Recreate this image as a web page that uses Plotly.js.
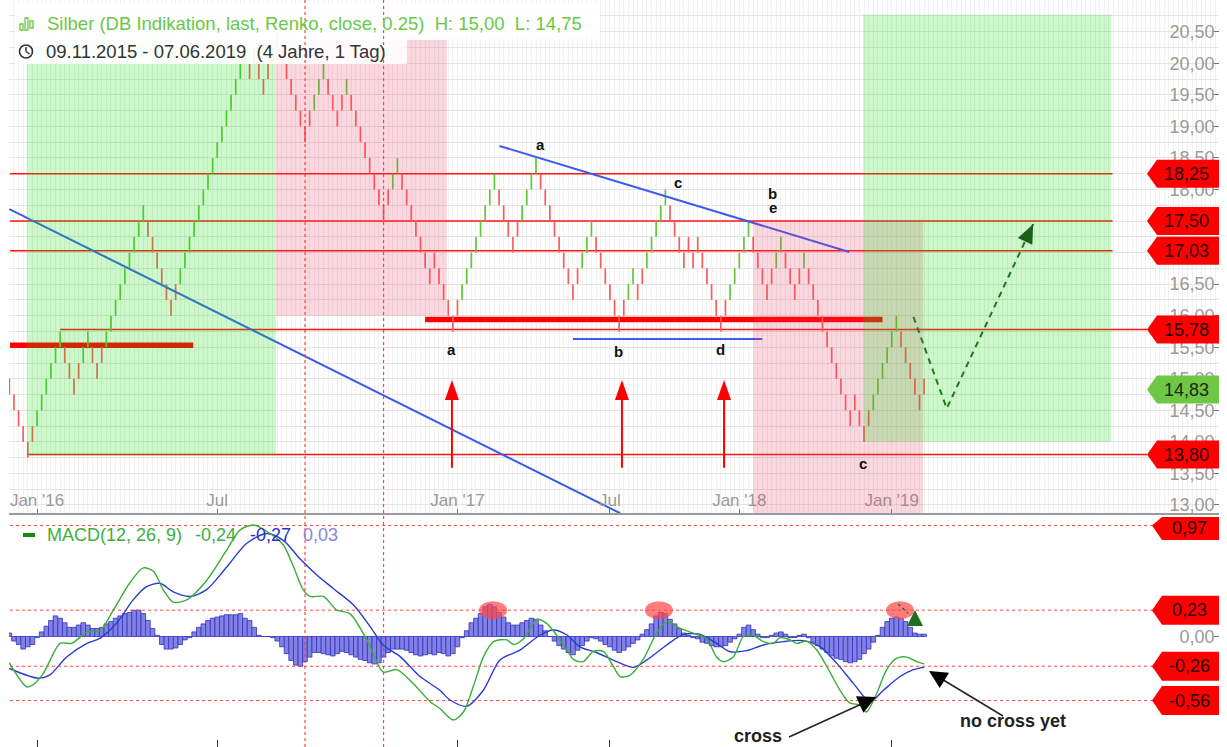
<!DOCTYPE html>
<html><head><meta charset="utf-8">
<script src="https://cdn.plot.ly/plotly-3.0.1.min.js"></script>
<style>html,body{margin:0;padding:0;background:#fff}#chart{width:1227px;height:747px}</style>
</head><body><div id="chart"></div>
<script>
// ---------------- DATA ----------------
const BRICK = 0.25;
// Renko brick closes (brick index = x) and direction (+1 up, -1 down)
const brickClose = [
14.75,14.50,14.25,14.00,13.75,14.25,14.50,14.75,15.00,15.25,
15.50,15.75,15.25,15.00,14.75,15.25,15.50,15.75,15.25,15.00,
15.50,15.75,16.00,16.25,16.50,16.75,17.00,17.25,17.50,17.75,
17.25,17.00,16.75,16.50,16.25,16.00,16.50,16.75,17.00,17.25,
17.50,17.75,18.00,18.25,18.50,18.75,19.00,19.25,19.50,19.75,
20.00,20.25,19.75,20.25,19.75,19.50,20.00,20.25,20.50,20.00,
19.75,19.50,19.25,19.00,18.75,19.25,19.50,19.75,20.00,19.50,
19.25,19.00,19.50,19.75,19.25,19.00,18.75,18.50,18.25,18.00,
17.75,17.50,18.00,18.25,18.50,18.00,17.75,17.50,17.25,17.00,
16.75,16.50,17.00,16.50,16.25,16.00,15.75,16.25,16.50,16.75,
17.00,17.25,17.50,17.75,18.00,18.25,17.75,17.50,17.25,17.00,
17.50,17.75,18.00,18.25,18.50,18.00,17.75,17.50,17.25,17.00,
16.75,16.50,16.25,16.75,17.00,17.25,17.50,17.00,16.75,16.50,
16.25,16.00,15.75,16.25,16.50,16.75,16.25,16.75,17.00,17.25,
17.50,17.75,18.00,17.50,17.25,17.00,16.75,17.25,16.75,17.25,
16.75,16.50,16.25,16.00,15.75,16.25,16.50,16.75,17.00,17.25,
17.50,17.00,16.75,16.50,16.25,16.75,17.00,17.25,16.75,16.50,
16.25,16.75,17.00,16.50,16.25,16.00,15.75,15.50,15.25,15.00,
14.75,14.50,14.25,14.75,14.25,14.00,14.50,14.75,15.00,15.25,
15.50,15.75,16.00,15.50,15.25,15.00,14.75,14.50,15.00];
const brickDir = [
-1,-1,-1,-1,-1,1,1,1,1,1,
1,1,-1,-1,-1,1,1,1,-1,-1,
1,1,1,1,1,1,1,1,1,1,
-1,-1,-1,-1,-1,-1,1,1,1,1,
1,1,1,1,1,1,1,1,1,1,
1,1,-1,1,-1,-1,1,1,1,-1,
-1,-1,-1,-1,-1,1,1,1,1,-1,
-1,-1,1,1,-1,-1,-1,-1,-1,-1,
-1,-1,1,1,1,-1,-1,-1,-1,-1,
-1,-1,1,-1,-1,-1,-1,1,1,1,
1,1,1,1,1,1,-1,-1,-1,-1,
1,1,1,1,1,-1,-1,-1,-1,-1,
-1,-1,-1,1,1,1,1,-1,-1,-1,
-1,-1,-1,1,1,1,-1,1,1,1,
1,1,1,-1,-1,-1,-1,1,-1,1,
-1,-1,-1,-1,-1,1,1,1,1,1,
1,-1,-1,-1,-1,1,1,1,-1,-1,
-1,1,1,-1,-1,-1,-1,-1,-1,-1,
-1,-1,-1,1,-1,-1,1,1,1,1,
1,1,1,-1,-1,-1,-1,-1,1];
// MACD histogram per brick
const histVal = [
0.03,-0.04,-0.07,-0.11,-0.09,-0.07,-0.01,0.04,0.09,0.14,
0.18,0.16,0.12,0.08,0.08,0.10,0.12,0.10,0.07,0.07,
0.08,0.11,0.13,0.16,0.18,0.20,0.21,0.23,0.23,0.20,
0.14,0.07,0.01,-0.07,-0.11,-0.11,-0.10,-0.07,-0.03,-0.01,
0.04,0.08,0.11,0.14,0.16,0.17,0.18,0.19,0.19,0.19,
0.20,0.16,0.14,0.08,0.01,0.00,0.00,-0.01,-0.04,-0.09,
-0.15,-0.21,-0.25,-0.26,-0.22,-0.18,-0.14,-0.14,-0.15,-0.16,
-0.17,-0.15,-0.13,-0.14,-0.16,-0.18,-0.20,-0.21,-0.23,-0.24,
-0.23,-0.18,-0.14,-0.11,-0.11,-0.11,-0.12,-0.14,-0.16,-0.17,
-0.16,-0.15,-0.16,-0.14,-0.15,-0.17,-0.15,-0.09,-0.01,0.05,
0.12,0.16,0.20,0.26,0.28,0.26,0.21,0.17,0.12,0.10,
0.10,0.12,0.14,0.16,0.15,0.10,0.05,0.00,-0.04,-0.08,
-0.11,-0.14,-0.16,-0.12,-0.08,-0.04,-0.01,-0.02,-0.04,-0.07,
-0.09,-0.12,-0.14,-0.12,-0.09,-0.06,-0.03,0.02,0.06,0.11,
0.18,0.21,0.20,0.15,0.11,0.07,0.03,0.01,-0.01,-0.02,
-0.05,-0.06,-0.08,-0.09,-0.09,-0.08,-0.05,-0.02,0.02,0.08,
0.10,0.06,0.02,-0.01,-0.01,0.01,0.03,0.04,0.02,-0.01,
-0.01,0.01,0.02,-0.01,-0.05,-0.08,-0.11,-0.14,-0.17,-0.19,
-0.20,-0.22,-0.23,-0.22,-0.20,-0.15,-0.11,-0.05,0.01,0.08,
0.13,0.16,0.17,0.16,0.13,0.08,0.03,0.02,0.02];
// MACD line (read at brick positions)
const macdIdx = [0,3.8,5.2,7.4,11,13.5,16.8,19.6,22.5,26.1,29,31.2,33.3,35.5,38.4,42.7,47.1,49.9,52.8,55.7,
59.3,61.5,63.6,65.1,68,70.9,73.7,77.4,80.9,83.9,87.4,91.1,93.2,96.1,98.3,100.4,102.6,104.8,107.7,109.1,
111.3,114.2,116.3,118.5,120.7,122.1,124.2,126.4,128.6,130.7,132.2,134.3,137.2,140.1,142.3,145.2,148,150.9,153.1,154.5,
156.7,158.9,161,163.2,165.4,166.8,169,170.4,172.6,174.8,177.6,179.8,181.9,184.1,185.5,187.7,189.9,192.1,194.2,196.4,198];
const macdVal = [-0.23,-0.44,-0.42,-0.32,-0.06,-0.06,0.04,0.05,0.23,0.47,0.60,0.57,0.41,0.30,0.32,0.49,0.76,0.93,0.975,0.92,
0.80,0.61,0.41,0.35,0.35,0.23,0.20,-0.03,-0.31,-0.29,-0.41,-0.57,-0.63,-0.73,-0.66,-0.44,-0.18,-0.045,-0.03,-0.07,
-0.02,0.15,0.115,0.01,-0.12,-0.20,-0.22,-0.13,-0.13,-0.26,-0.35,-0.34,-0.20,0.03,0.13,0.07,0.03,-0.02,-0.18,-0.22,
-0.18,0.0,0.01,-0.045,-0.06,-0.01,-0.03,-0.06,-0.04,-0.12,-0.31,-0.47,-0.58,-0.60,-0.66,-0.50,-0.29,-0.19,-0.18,-0.22,-0.24];
// Signal line
const sigIdx = [0,6.3,8.8,12.4,16.8,19.6,23.2,26.8,29.7,32.6,35.5,39.1,42.7,47.1,51.4,55.7,59.3,62.9,66.5,70.1,
74.5,78.1,80.9,84.6,88.9,93.2,95.4,99,102.6,106.2,110.5,114.9,117.8,120.7,123.5,127.1,131.5,135.1,138,142.3,
145.9,149.5,153.1,156,159.6,163.2,167.5,171.8,175.5,179.1,182.7,186.3,189.2,192.8,195.7,198];
const sigVal = [-0.28,-0.365,-0.335,-0.18,-0.06,-0.016,0.115,0.32,0.435,0.465,0.39,0.35,0.41,0.61,0.815,0.90,0.84,0.68,0.54,0.42,
0.275,0.086,-0.074,-0.176,-0.35,-0.47,-0.555,-0.61,-0.47,-0.205,-0.12,0.013,0.057,0.013,-0.09,-0.14,-0.22,-0.27,-0.205,-0.074,
0.019,0.019,-0.06,-0.133,-0.124,-0.074,-0.045,-0.036,-0.09,-0.235,-0.41,-0.57,-0.47,-0.35,-0.29,-0.27];
// Axis ticks
const xTickIdx = [6,45,97,130,158,191];
const xTickText = ["Jan '16","Jul","Jan '17","Jul","Jan '18","Jan '19"];
const macdTickIdx = [6,45,97,130,191];
const priceTickVals = [13,13.5,14,14.5,15,15.5,16,16.5,17,17.5,18,18.5,19,19.5,20,20.5];
// Drawn levels / tags
const levelShort = [18.25,17.50,17.03];
const levelLong = [15.78,13.80];
const levelLongStart = [11,3.8];
const thickLevel = [15.53,15.94];
const thickFrom = [0.15,90];
const thickTo = [39.8,189];
const lastPrice = 14.83;
const macdLevels = [0.97,0.23,-0.26,-0.56];
// Trendlines (brick index, price)
const trendA_i = [0,132.2],   trendA_p = [17.69,12.87];
const trendB_i = [106.1,181.8], trendB_p = [18.69,17.01];
const trendC_i = [122,163],   trendC_p = [15.63,15.63];
const forecast_i = [195.7,202.9,221.6], forecast_p = [15.98,14.53,17.45];
const arrowIdx = [95.8,132.6,154.7];
const markerIdx = [64,81];
const ellipseIdx = [104.7,140.6,192.8];

// ---------------- GEOMETRY ----------------
const FONT = '"Liberation Sans", Arial, sans-serif';
const W=1227, H=747, ML=9, MR=8, PW=W-ML-MR;
const XR=[-0.07,261.83];
const YR=[12.873,21.003];
const Y2R=[-0.966,1.062];
const MAIN_BOT=513, MACD_TOP=515;
const dom1=[1-MAIN_BOT/H,1], dom2=[0,1-MACD_TOP/H];
const xpx=i=>ML+(i-XR[0])*PW/(XR[1]-XR[0]);
const ypx=p=>(YR[1]-p)*MAIN_BOT/(YR[1]-YR[0]);
const y2px=v=>MACD_TOP+(Y2R[1]-v)*(H-MACD_TOP)/(Y2R[1]-Y2R[0]);
const PX=px=>(px-ML)/PW;
const PY=py=>1-py/H;

// ---------------- TRACES ----------------
const traces=[];
const GREEN='rgb(95,200,55)', RED='rgb(255,90,90)';
levelShort.forEach(l=>traces.push({x:[0.15,238.8],y:[l,l],mode:'lines',line:{color:'rgb(255,20,20)',width:1.5},hoverinfo:'skip',xaxis:'x',yaxis:'y'}));
levelLong.forEach((l,k)=>traces.push({x:[levelLongStart[k],246.3],y:[l,l],mode:'lines',line:{color:'rgb(255,20,20)',width:1.5},hoverinfo:'skip',xaxis:'x',yaxis:'y'}));
thickLevel.forEach((l,k)=>traces.push({x:[thickFrom[k],thickTo[k]],y:[l,l],mode:'lines',line:{color:'rgb(255,0,0)',width:5.5},hoverinfo:'skip',xaxis:'x',yaxis:'y'}));
const gx=[],gy=[],rx=[],ry=[];
brickClose.forEach((c,i)=>{
  const d=brickDir[i], o=c-d*BRICK;
  const isG = d>0 && i>0 && brickDir[i-1]>0;
  (isG?gx:rx).push(i,i,null); (isG?gy:ry).push(o,c,null);
});
traces.push({x:rx,y:ry,mode:'lines',line:{color:RED,width:1.7},hoverinfo:'skip',xaxis:'x',yaxis:'y'});
traces.push({x:gx,y:gy,mode:'lines',line:{color:GREEN,width:1.7},hoverinfo:'skip',xaxis:'x',yaxis:'y'});
[[trendA_i,trendA_p],[trendB_i,trendB_p],[trendC_i,trendC_p]].forEach(t=>traces.push({x:t[0],y:t[1],mode:'lines',line:{color:'rgb(60,90,235)',width:2},hoverinfo:'skip',xaxis:'x',yaxis:'y'}));
traces.push({x:forecast_i,y:forecast_p,mode:'lines',line:{color:'rgb(35,95,35)',width:2,dash:'6px,5px'},hoverinfo:'skip',xaxis:'x',yaxis:'y'});
macdLevels.forEach(l=>traces.push({x:[0.15,247.7],y:[l,l],mode:'lines',line:{color:'rgb(255,70,70)',width:1,dash:'dot'},hoverinfo:'skip',xaxis:'x2',yaxis:'y2'}));
traces.push({type:'bar',x:histVal.map((v,i)=>i),y:histVal,width:1,marker:{color:'rgb(130,130,230)',line:{color:'rgb(50,50,185)',width:0.8}},hoverinfo:'skip',xaxis:'x2',yaxis:'y2'});
traces.push({x:sigIdx,y:sigVal,mode:'lines',line:{color:'rgb(40,60,205)',width:1.4,shape:'spline',smoothing:0.8},hoverinfo:'skip',xaxis:'x2',yaxis:'y2'});
traces.push({x:macdIdx,y:macdVal,mode:'lines',line:{color:'rgb(55,175,55)',width:1.4,shape:'spline',smoothing:0.8},hoverinfo:'skip',xaxis:'x2',yaxis:'y2'});

// ---------------- SHAPES ----------------
const shapes=[];
const GF='rgba(0,220,0,0.2)', PF='rgba(235,60,100,0.2)';
[[3.77,57.7,13.78,20.37,GF],[57.7,94.7,16.0,20.37,PF],[161,197.8,YR[0],17.52,PF],[184.8,238.5,14.0,20.77,GF]].forEach(z=>{
  shapes.push({type:'rect',xref:'x',yref:'y',x0:z[0],x1:z[1],y0:z[2],y1:z[3],fillcolor:z[4],line:{width:0},layer:'above'});
});
shapes.push({type:'rect',xref:'paper',yref:'paper',x0:PX(15),x1:PX(600),y0:PY(39),y1:PY(3),fillcolor:'rgba(255,255,255,0.88)',line:{width:0},layer:'above'});
shapes.push({type:'rect',xref:'paper',yref:'paper',x0:PX(15),x1:PX(407),y0:PY(64),y1:PY(39),fillcolor:'rgba(255,255,255,0.9)',line:{width:0},layer:'above'});
markerIdx.forEach(i=>shapes.push({type:'line',xref:'x',yref:'paper',x0:i,x1:i,y0:0,y1:1,line:{color:'rgba(255,50,50,0.9)',width:1.2,dash:'dot'},layer:'above'}));
function tri(tx,ty,dx,dy,len,hw,color){
  const n=Math.hypot(dx,dy); dx/=n; dy/=n;
  const bx=tx-dx*len, by=ty-dy*len, qx=-dy, qy=dx;
  return {type:'path',xref:'paper',yref:'paper',layer:'above',fillcolor:color,line:{width:0},
    path:`M ${PX(tx)} ${PY(ty)} L ${PX(bx+qx*hw)} ${PY(by+qy*hw)} L ${PX(bx-qx*hw)} ${PY(by-qy*hw)} Z`};
}
function seg(x0,y0,x1,y1,color,w,dash){return {type:'line',xref:'paper',yref:'paper',x0:PX(x0),y0:PY(y0),x1:PX(x1),y1:PY(y1),line:{color:color,width:w,dash:dash||'solid'},layer:'above'};}
arrowIdx.forEach(i=>{const x=xpx(i), yt=ypx(14.98), yb=ypx(13.59);
  shapes.push(seg(x,yb,x,yt+18,'rgb(255,0,0)',2));
  shapes.push(tri(x,yt,0,-1,20,7,'rgb(255,0,0)'));});
{const n=forecast_i.length; const x1=xpx(forecast_i[n-1]),y1=ypx(forecast_p[n-1]),x0=xpx(forecast_i[n-2]),y0=ypx(forecast_p[n-2]);
 shapes.push(tri(x1,y1,x1-x0,y1-y0,19,8,'rgb(25,95,25)'));}
function tag(yc,fill,left,hh,topClip){const yt=Math.max(yc-hh,topClip||0), yb=yc+hh;
  return {type:'path',xref:'paper',yref:'paper',layer:'above',fillcolor:fill,line:{width:0},
  path:`M ${PX(left)} ${PY(yc)} L ${PX(left+10)} ${PY(yt)} L ${PX(1219)} ${PY(yt)} L ${PX(1219)} ${PY(yb)} L ${PX(left+10)} ${PY(yb)} Z`};}
levelShort.concat(levelLong).forEach(l=>shapes.push(tag(ypx(l),'rgb(255,0,0)',1147,14)));
shapes.push(tag(ypx(lastPrice),'rgb(110,200,70)',1147,14));
macdLevels.forEach(l=>shapes.push(tag(y2px(l),'rgb(255,0,0)',1152,14.5,517)));
ellipseIdx.forEach(i=>{const cx=xpx(i), cy=y2px(0.23);
  shapes.push({type:'circle',xref:'paper',yref:'paper',x0:PX(cx-14),x1:PX(cx+14),y0:PY(cy+9),y1:PY(cy-9),fillcolor:'rgba(255,70,70,0.7)',line:{width:0},layer:'above'});});
shapes.push(seg(898,604,908,613,'rgb(30,110,30)',1.5,'dot'));
shapes.push(tri(915,610,0,-1,16,8,'rgb(30,110,30)'));
shapes.push(seg(789,737,866,702,'#222',1.5));
shapes.push(tri(876,697,876-789,697-737,18,9,'#000'));
shapes.push(seg(1003,716,940,678,'#222',1.5));
shapes.push(tri(929,671,929-1003,671-716,18,9,'#000'));
shapes.push({type:'circle',xref:'paper',yref:'paper',x0:PX(19.5),x1:PX(32.5),y0:PY(58),y1:PY(45),line:{color:'#333',width:1.6},layer:'above'});
shapes.push(seg(26,51.5,26,47,'#333',1.5));
shapes.push(seg(26,51.5,29.5,54,'#333',1.5));
const T1=23;
[[20,T1+1,23,T1+7],[25,T1-5,28,T1+7],[30,T1-2,33,T1+5]].forEach(r=>shapes.push({type:'rect',xref:'paper',yref:'paper',x0:PX(r[0]),x1:PX(r[2]),y0:PY(r[3]),y1:PY(r[1]),line:{color:'rgb(105,200,70)',width:1.3},layer:'above'}));
shapes.push(seg(23,535,35,535,'rgb(20,140,20)',4));

// ---------------- ANNOTATIONS ----------------
const ann=[];
function txt(x,y,t,size,color,anchor,bold){ann.push({xref:'paper',yref:'paper',x:PX(x),y:PY(y),text:bold?'<b>'+t+'</b>':t,showarrow:false,xanchor:anchor||'left',yanchor:'middle',font:{family:FONT,size:size,color:color}});}
txt(45,T1,'Silber (DB Indikation, last, Renko, close, 0.25)\u00a0\u00a0H: 15,00\u00a0\u00a0L: 14,75',18.5,'rgb(105,200,70)');
txt(44,51.5,'09.11.2015 - 07.06.2019\u00a0\u00a0(4 Jahre, 1 Tag)',18.5,'#333');
txt(45,535,'MACD(12, 26, 9)',18,'rgb(60,175,60)');
txt(193,535,'-0,24',18,'rgb(60,175,60)');
txt(248,535,'-0,27',18,'rgb(40,50,200)');
txt(301,535,'0,03',18,'rgb(135,135,210)');
const fmt=v=>v.toFixed(2).replace('.',',');
levelShort.concat(levelLong).forEach(l=>txt(1186,ypx(l),fmt(l),18,'#2a0000','center'));
txt(1186,ypx(lastPrice),fmt(lastPrice),18,'#1a2a10','center');
macdLevels.forEach(l=>txt(1189,Math.max(y2px(l),528),fmt(l),18,'#2a0000','center'));
[['a',95.8,15.46],['b',131.8,15.43],['d',154.0,15.46],['a',115.0,18.72],['c',144.8,18.11],['b',165.2,17.94],['e',165.2,17.71],['c',184.8,13.66]].forEach(l=>{
  ann.push({xref:'x',yref:'y',x:l[1],y:l[2],text:'<b>'+l[0]+'</b>',showarrow:false,font:{family:FONT,size:15,color:'#111'}});});
txt(758,736,'cross',18,'#222','center',true);
txt(1013,720.5,'no cross yet',18,'#222','center',true);

// ---------------- LAYOUT ----------------
const layout={
  width:W,height:H,margin:{l:ML,r:MR,t:0,b:0},paper_bgcolor:'#fff',plot_bgcolor:'#fff',
  showlegend:false,separators:',.',font:{family:FONT},
  xaxis:{domain:[0,1],range:XR,anchor:'y',tickmode:'array',tickvals:xTickIdx,ticktext:xTickText,ticks:'inside',ticklen:4,tickcolor:'#777',
    ticklabelposition:'inside',ticklabeloverflow:'allow',tickfont:{size:17,color:'#9a9a9a',family:FONT},showgrid:false,
    minor:{tickmode:'linear',tick0:0,dtick:1,showgrid:true,gridcolor:'#f1f1f1',gridwidth:1,ticks:''},
    showline:true,linecolor:'#9a9a9a',linewidth:2,zeroline:false,fixedrange:true},
  yaxis:{domain:dom1,range:YR,anchor:'x',side:'right',tickmode:'array',tickvals:priceTickVals,tickformat:'.2f',ticks:'inside',ticklen:5,tickcolor:'#777',
    ticklabelposition:'inside',ticklabeloverflow:'allow',tickfont:{size:18,color:'#9a9a9a',family:FONT},showgrid:true,gridcolor:'#e4e4e4',
    minor:{tickmode:'linear',tick0:13,dtick:0.25,showgrid:true,gridcolor:'#e4e4e4',ticks:''},zeroline:false,showline:false,fixedrange:true},
  xaxis2:{domain:[0,1],range:XR,anchor:'y2',tickmode:'array',tickvals:macdTickIdx,showticklabels:false,ticks:'inside',ticklen:7,tickcolor:'#333',
    showgrid:false,showline:false,zeroline:false,fixedrange:true},
  yaxis2:{domain:dom2,range:Y2R,anchor:'x2',side:'right',tickmode:'array',tickvals:[0],ticktext:['0,00'],ticks:'inside',ticklen:5,tickcolor:'#777',
    ticklabelposition:'inside',tickfont:{size:18,color:'#9a9a9a',family:FONT},showgrid:false,zeroline:false,showline:false,fixedrange:true},
  shapes:shapes,annotations:ann
};
Plotly.newPlot('chart',traces,layout,{displayModeBar:false,staticPlot:true});
</script></body></html>
